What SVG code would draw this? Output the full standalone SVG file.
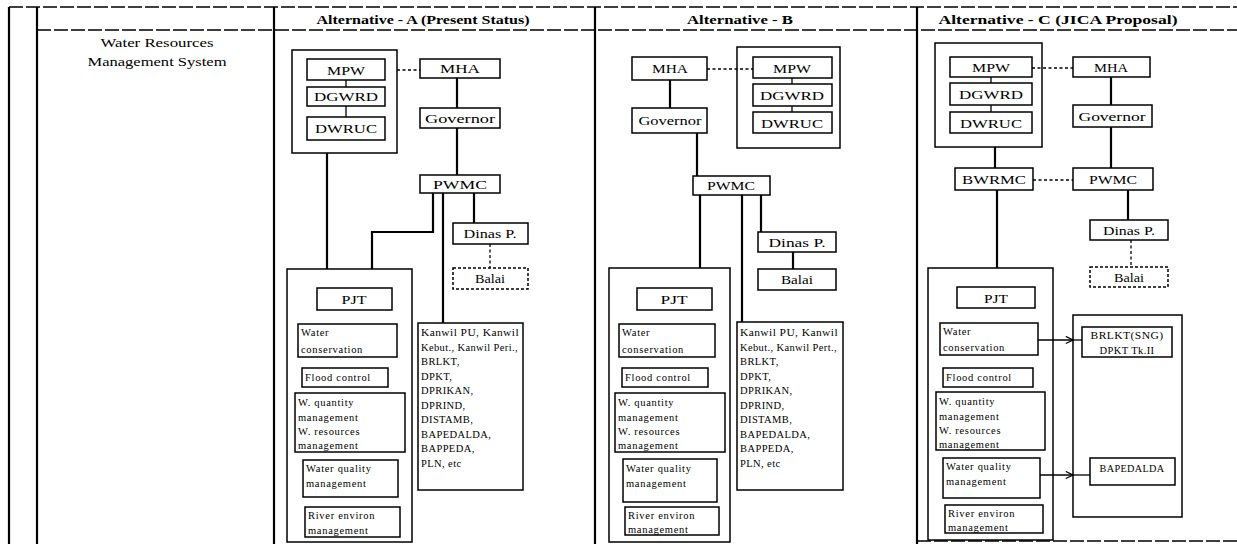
<svg xmlns="http://www.w3.org/2000/svg" width="1237" height="544" viewBox="0 0 1237 544">
  <style>
    .rule { stroke: #000; stroke-width: 1.3; stroke-dasharray: 14 3; fill: none; }
    .col { stroke: #000; stroke-width: 2.2; fill: none; }
    .box { fill: #fff; stroke: #000; stroke-width: 1.5; }
    .grp { fill: none; stroke: #000; stroke-width: 1.5; }
    .dash { fill: #fff; stroke: #000; stroke-width: 1.5; stroke-dasharray: 3 2; }
    .ln { stroke: #000; stroke-width: 2.2; fill: none; }
    .thin { stroke: #000; stroke-width: 1.3; fill: none; }
    .dot { stroke: #000; stroke-width: 1.3; fill: none; stroke-dasharray: 3 2.5; }
    text { font-family: "Liberation Serif", "Times New Roman", serif; fill: #000; }
    .hd { font-size: 12.5px; font-weight: bold; text-anchor: middle; }
    .tt { font-size: 13px; text-anchor: middle; }
    .lbl { font-size: 13.5px; text-anchor: middle; }
    .sm { font-size: 10.5px; letter-spacing: 0.7px; }
    .ag { font-size: 10.5px; letter-spacing: 0.4px; }
  </style>
  <defs>
    <marker id="open" viewBox="0 0 10 10" refX="9" refY="5" markerWidth="9" markerHeight="9" orient="auto" markerUnits="userSpaceOnUse">
      <path d="M1,1 L9,5 L1,9" fill="none" stroke="#000" stroke-width="1.3"/>
    </marker>
  </defs>
  <rect width="1237" height="544" fill="#fff"/>

  <!-- table frame -->
  <g id="table">
    <line class="rule" x1="9" y1="7" x2="1237" y2="7"/>
    <line class="rule" x1="37" y1="30" x2="1237" y2="30"/>
    <line class="rule" x1="917" y1="541" x2="1237" y2="541"/>
    <line class="col" x1="9" y1="7" x2="9" y2="544"/>
    <line class="col" x1="37" y1="7" x2="37" y2="544"/>
    <line class="col" x1="274" y1="7" x2="274" y2="544"/>
    <line class="col" x1="595" y1="7" x2="595" y2="544"/>
    <line class="col" x1="917" y1="7" x2="917" y2="544"/>
    <text class="hd" x="423" y="24" textLength="213" lengthAdjust="spacingAndGlyphs">Alternative - A (Present Status)</text>
    <text class="hd" x="740" y="24" textLength="106" lengthAdjust="spacingAndGlyphs">Alternative - B</text>
    <text class="hd" x="1058" y="24" textLength="239" lengthAdjust="spacingAndGlyphs">Alternative - C (JICA Proposal)</text>
    <text class="tt" x="157" y="47" textLength="113" lengthAdjust="spacingAndGlyphs">Water Resources</text>
    <text class="tt" x="157" y="66" textLength="139" lengthAdjust="spacingAndGlyphs">Management System</text>
  </g>

  <!-- connectors -->
  <g id="connectors">
    <!-- Alternative A -->
    <line class="dot" x1="397" y1="70" x2="420" y2="70"/>
    <line class="thin" x1="346" y1="80" x2="346" y2="87"/>
    <line class="thin" x1="346" y1="106" x2="346" y2="117"/>
    <line class="ln" x1="457" y1="78" x2="457" y2="108"/>
    <line class="ln" x1="457" y1="128" x2="457" y2="175"/>
    <line class="ln" x1="327" y1="153" x2="327" y2="269"/>
    <polyline class="ln" points="433,193 433,232 372,232 372,269"/>
    <line class="ln" x1="443" y1="193" x2="443" y2="323"/>
    <line class="ln" x1="474" y1="193" x2="474" y2="223"/>
    <line class="dot" x1="490" y1="244" x2="490" y2="268"/>
    <!-- Alternative B -->
    <line class="dot" x1="707" y1="69" x2="753" y2="69"/>
    <line class="thin" x1="792" y1="78" x2="792" y2="84"/>
    <line class="thin" x1="792" y1="106" x2="792" y2="112"/>
    <line class="ln" x1="670" y1="80" x2="670" y2="108"/>
    <line class="ln" x1="697" y1="133" x2="697" y2="176"/>
    <line class="ln" x1="700" y1="195" x2="700" y2="268"/>
    <line class="ln" x1="742" y1="195" x2="742" y2="322"/>
    <line class="ln" x1="761" y1="195" x2="761" y2="232"/>
    <line class="ln" x1="793" y1="252" x2="793" y2="269"/>
    <!-- Alternative C -->
    <line class="dot" x1="1032" y1="68" x2="1073" y2="68"/>
    <line class="thin" x1="991" y1="77" x2="991" y2="83"/>
    <line class="thin" x1="991" y1="105" x2="991" y2="112"/>
    <line class="ln" x1="1111" y1="77" x2="1111" y2="105"/>
    <line class="ln" x1="1111" y1="127" x2="1111" y2="168"/>
    <line class="ln" x1="995" y1="147" x2="995" y2="168"/>
    <line class="dot" x1="1033" y1="180" x2="1073" y2="180"/>
    <line class="ln" x1="997" y1="190" x2="997" y2="268"/>
    <line class="ln" x1="1128" y1="190" x2="1128" y2="220"/>
    <line class="dot" x1="1131" y1="240" x2="1131" y2="267"/>
    <line class="thin" x1="1038" y1="340" x2="1073" y2="340" marker-end="url(#open)"/>
    <line class="thin" x1="1073" y1="340" x2="1082" y2="340"/>
    <line class="thin" x1="1040" y1="475" x2="1073" y2="475" marker-end="url(#open)"/>
    <line class="thin" x1="1073" y1="475" x2="1090" y2="475"/>
  </g>

  <!-- Alternative A nodes -->
  <g id="a-ministry-group"><rect class="grp" x="292" y="50" width="105" height="103"/></g>
  <g id="a-mpw"><rect class="box" x="307" y="59" width="78" height="21"/><text class="lbl" x="346" y="74.5" textLength="38" lengthAdjust="spacingAndGlyphs">MPW</text></g>
  <g id="a-dgwrd"><rect class="box" x="307" y="87" width="78" height="19"/><text class="lbl" x="346" y="101" textLength="64" lengthAdjust="spacingAndGlyphs">DGWRD</text></g>
  <g id="a-dwruc"><rect class="box" x="307" y="117" width="78" height="23"/><text class="lbl" x="346" y="133" textLength="62" lengthAdjust="spacingAndGlyphs">DWRUC</text></g>
  <g id="a-mha"><rect class="box" x="420" y="59" width="80" height="19"/><text class="lbl" x="460" y="73" textLength="40" lengthAdjust="spacingAndGlyphs">MHA</text></g>
  <g id="a-governor"><rect class="box" x="420" y="108" width="80" height="20"/><text class="lbl" x="460" y="122.5" textLength="70" lengthAdjust="spacingAndGlyphs">Governor</text></g>
  <g id="a-pwmc"><rect class="box" x="420" y="175" width="80" height="18"/><text class="lbl" x="460" y="188.5" textLength="54" lengthAdjust="spacingAndGlyphs">PWMC</text></g>
  <g id="a-dinas"><rect class="box" x="453" y="223" width="75" height="21"/><text class="lbl" x="490" y="238" textLength="53" lengthAdjust="spacingAndGlyphs">Dinas P.</text></g>
  <g id="a-balai"><rect class="dash" x="453" y="268" width="75" height="21"/><text class="lbl" x="490" y="283" textLength="30" lengthAdjust="spacingAndGlyphs">Balai</text></g>
  <g id="a-pjt-group"><rect class="grp" x="287" y="269" width="125" height="273"/></g>
  <g id="a-pjt"><rect class="box" x="317" y="288" width="75" height="22"/><text class="lbl" x="354" y="303.5" textLength="25" lengthAdjust="spacingAndGlyphs">PJT</text></g>
  <g id="a-conservation"><rect class="box" x="298" y="324" width="99" height="33"/><text class="sm" x="301" y="336">Water</text><text class="sm" x="301" y="353">conservation</text></g>
  <g id="a-flood"><rect class="box" x="302" y="368" width="86" height="19"/><text class="sm" x="305" y="381">Flood control</text></g>
  <g id="a-quantity"><rect class="box" x="295" y="393" width="110" height="59"/><text class="sm" x="298" y="406">W. quantity</text><text class="sm" x="298" y="421">management</text><text class="sm" x="298" y="435">W. resources</text><text class="sm" x="298" y="449">management</text></g>
  <g id="a-quality"><rect class="box" x="303" y="460" width="95" height="37"/><text class="sm" x="306" y="472">Water quality</text><text class="sm" x="306" y="487">management</text></g>
  <g id="a-river"><rect class="box" x="305" y="507" width="95" height="30"/><text class="sm" x="308" y="519">River environ</text><text class="sm" x="308" y="534">management</text></g>
  <g id="a-agencies"><rect class="box" x="418" y="323" width="105" height="167"/>
    <text class="ag" x="421" y="336" textLength="98" lengthAdjust="spacingAndGlyphs">Kanwil PU, Kanwil</text>
    <text class="ag" x="421" y="350.5" textLength="97" lengthAdjust="spacingAndGlyphs">Kebut., Kanwil Peri.,</text>
    <text class="ag" x="421" y="365">BRLKT,</text>
    <text class="ag" x="421" y="379.5">DPKT,</text>
    <text class="ag" x="421" y="394">DPRIKAN,</text>
    <text class="ag" x="421" y="408.5">DPRIND,</text>
    <text class="ag" x="421" y="423">DISTAMB,</text>
    <text class="ag" x="421" y="437.5">BAPEDALDA,</text>
    <text class="ag" x="421" y="452">BAPPEDA,</text>
    <text class="ag" x="421" y="466.5">PLN, etc</text>
  </g>

  <!-- Alternative B nodes -->
  <g id="b-mha"><rect class="box" x="632" y="57" width="75" height="23"/><text class="lbl" x="670" y="73" textLength="36" lengthAdjust="spacingAndGlyphs">MHA</text></g>
  <g id="b-ministry-group"><rect class="grp" x="737" y="47" width="103" height="101"/></g>
  <g id="b-mpw"><rect class="box" x="753" y="57" width="79" height="21"/><text class="lbl" x="792" y="72.5" textLength="38" lengthAdjust="spacingAndGlyphs">MPW</text></g>
  <g id="b-dgwrd"><rect class="box" x="753" y="84" width="79" height="22"/><text class="lbl" x="792" y="100" textLength="64" lengthAdjust="spacingAndGlyphs">DGWRD</text></g>
  <g id="b-dwruc"><rect class="box" x="753" y="112" width="79" height="21"/><text class="lbl" x="792" y="127.5" textLength="62" lengthAdjust="spacingAndGlyphs">DWRUC</text></g>
  <g id="b-governor"><rect class="box" x="632" y="108" width="75" height="25"/><text class="lbl" x="670" y="125" textLength="63" lengthAdjust="spacingAndGlyphs">Governor</text></g>
  <g id="b-pwmc"><rect class="box" x="693" y="176" width="77" height="19"/><text class="lbl" x="731" y="190" textLength="48" lengthAdjust="spacingAndGlyphs">PWMC</text></g>
  <g id="b-dinas"><rect class="box" x="758" y="232" width="78" height="20"/><text class="lbl" x="797" y="246.5" textLength="57" lengthAdjust="spacingAndGlyphs">Dinas P.</text></g>
  <g id="b-balai"><rect class="box" x="758" y="269" width="78" height="21"/><text class="lbl" x="797" y="284" textLength="32" lengthAdjust="spacingAndGlyphs">Balai</text></g>
  <g id="b-pjt-group"><rect class="grp" x="609" y="268" width="121" height="274"/></g>
  <g id="b-pjt"><rect class="box" x="637" y="288" width="75" height="22"/><text class="lbl" x="674" y="303.5" textLength="27" lengthAdjust="spacingAndGlyphs">PJT</text></g>
  <g id="b-conservation"><rect class="box" x="619" y="324" width="96" height="33"/><text class="sm" x="622" y="336">Water</text><text class="sm" x="622" y="353">conservation</text></g>
  <g id="b-flood"><rect class="box" x="622" y="368" width="86" height="19"/><text class="sm" x="625" y="381">Flood control</text></g>
  <g id="b-quantity"><rect class="box" x="615" y="393" width="110" height="59"/><text class="sm" x="618" y="406">W. quantity</text><text class="sm" x="618" y="421">management</text><text class="sm" x="618" y="435">W. resources</text><text class="sm" x="618" y="449">management</text></g>
  <g id="b-quality"><rect class="box" x="623" y="459" width="94" height="43"/><text class="sm" x="626" y="472">Water quality</text><text class="sm" x="626" y="487">management</text></g>
  <g id="b-river"><rect class="box" x="625" y="507" width="94" height="28"/><text class="sm" x="628" y="519">River environ</text><text class="sm" x="628" y="533">management</text></g>
  <g id="b-agencies"><rect class="box" x="737" y="322" width="106" height="168"/>
    <text class="ag" x="740" y="336" textLength="98" lengthAdjust="spacingAndGlyphs">Kanwil PU, Kanwil</text>
    <text class="ag" x="740" y="350.5" textLength="97" lengthAdjust="spacingAndGlyphs">Kebut., Kanwil Pert.,</text>
    <text class="ag" x="740" y="365">BRLKT,</text>
    <text class="ag" x="740" y="379.5">DPKT,</text>
    <text class="ag" x="740" y="394">DPRIKAN,</text>
    <text class="ag" x="740" y="408.5">DPRIND,</text>
    <text class="ag" x="740" y="423">DISTAMB,</text>
    <text class="ag" x="740" y="437.5">BAPEDALDA,</text>
    <text class="ag" x="740" y="452">BAPPEDA,</text>
    <text class="ag" x="740" y="466.5">PLN, etc</text>
  </g>

  <!-- Alternative C nodes -->
  <g id="c-ministry-group"><rect class="grp" x="935" y="43" width="107" height="104"/></g>
  <g id="c-mpw"><rect class="box" x="950" y="57" width="82" height="20"/><text class="lbl" x="991" y="72" textLength="38" lengthAdjust="spacingAndGlyphs">MPW</text></g>
  <g id="c-dgwrd"><rect class="box" x="950" y="83" width="82" height="22"/><text class="lbl" x="991" y="99" textLength="64" lengthAdjust="spacingAndGlyphs">DGWRD</text></g>
  <g id="c-dwruc"><rect class="box" x="950" y="112" width="82" height="21"/><text class="lbl" x="991" y="127.5" textLength="62" lengthAdjust="spacingAndGlyphs">DWRUC</text></g>
  <g id="c-mha"><rect class="box" x="1073" y="57" width="77" height="20"/><text class="lbl" x="1111" y="72" textLength="34" lengthAdjust="spacingAndGlyphs">MHA</text></g>
  <g id="c-governor"><rect class="box" x="1073" y="105" width="79" height="22"/><text class="lbl" x="1112" y="121" textLength="67" lengthAdjust="spacingAndGlyphs">Governor</text></g>
  <g id="c-bwrmc"><rect class="box" x="955" y="168" width="78" height="22"/><text class="lbl" x="994" y="184" textLength="64" lengthAdjust="spacingAndGlyphs">BWRMC</text></g>
  <g id="c-pwmc"><rect class="box" x="1073" y="168" width="80" height="22"/><text class="lbl" x="1113" y="184" textLength="48" lengthAdjust="spacingAndGlyphs">PWMC</text></g>
  <g id="c-dinas"><rect class="box" x="1090" y="220" width="78" height="20"/><text class="lbl" x="1129" y="234.5" textLength="52" lengthAdjust="spacingAndGlyphs">Dinas P.</text></g>
  <g id="c-balai"><rect class="dash" x="1090" y="267" width="78" height="20"/><text class="lbl" x="1129" y="281.5" textLength="30" lengthAdjust="spacingAndGlyphs">Balai</text></g>
  <g id="c-pjt-group"><rect class="grp" x="928" y="268" width="125" height="272"/></g>
  <g id="c-pjt"><rect class="box" x="957" y="287" width="78" height="21"/><text class="lbl" x="996" y="302.5" textLength="24" lengthAdjust="spacingAndGlyphs">PJT</text></g>
  <g id="c-conservation"><rect class="box" x="940" y="323" width="98" height="32"/><text class="sm" x="943" y="335">Water</text><text class="sm" x="943" y="351">conservation</text></g>
  <g id="c-flood"><rect class="box" x="943" y="368" width="90" height="19"/><text class="sm" x="946" y="381">Flood control</text></g>
  <g id="c-quantity"><rect class="box" x="936" y="392" width="109" height="58"/><text class="sm" x="939" y="405">W. quantity</text><text class="sm" x="939" y="420">management</text><text class="sm" x="939" y="434">W. resources</text><text class="sm" x="939" y="448">management</text></g>
  <g id="c-quality"><rect class="box" x="943" y="458" width="97" height="40"/><text class="sm" x="946" y="470">Water quality</text><text class="sm" x="946" y="485">management</text></g>
  <g id="c-river"><rect class="box" x="945" y="505" width="98" height="28"/><text class="sm" x="948" y="517">River environ</text><text class="sm" x="948" y="531">management</text></g>
  <g id="c-agency-group"><rect class="grp" x="1073" y="315" width="109" height="202"/></g>
  <g id="c-brlkt"><rect class="box" x="1082" y="327" width="90" height="30"/><text class="ag" x="1127" y="339" text-anchor="middle" textLength="73" lengthAdjust="spacingAndGlyphs">BRLKT(SNG)</text><text class="ag" x="1127" y="354" text-anchor="middle" textLength="55" lengthAdjust="spacingAndGlyphs">DPKT Tk.II</text></g>
  <g id="c-bapedalda"><rect class="box" x="1090" y="458" width="85" height="27"/><text class="ag" x="1132" y="472" text-anchor="middle" textLength="65" lengthAdjust="spacingAndGlyphs">BAPEDALDA</text></g>
</svg>
